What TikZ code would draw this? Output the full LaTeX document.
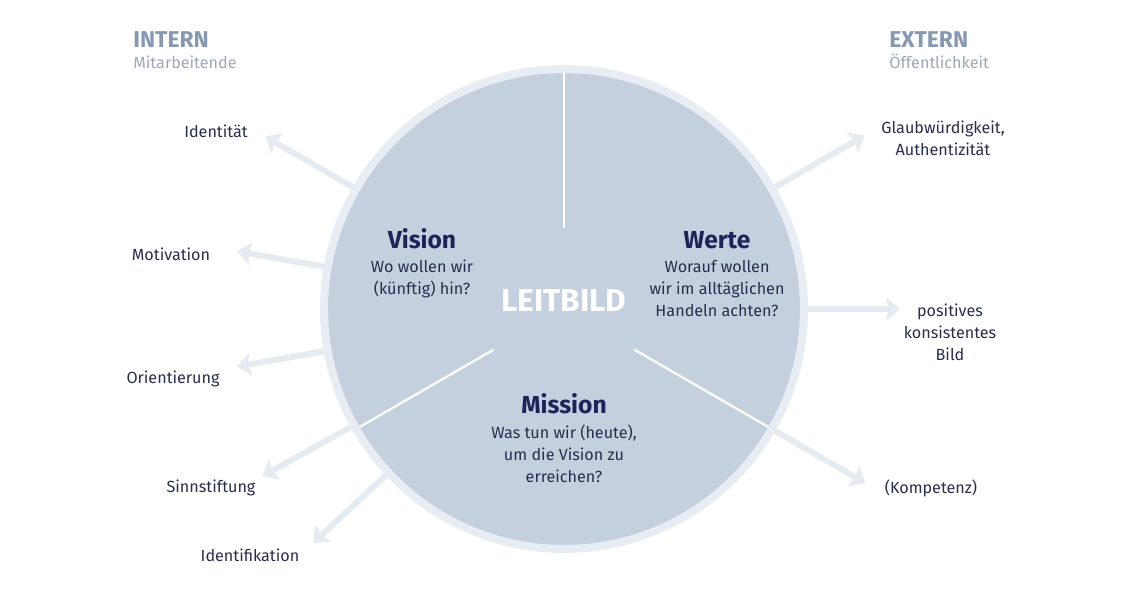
\documentclass[tikz,border=0pt]{standalone}
\usepackage{fontspec}
\setmainfont{Fira Sans}
\usepackage{xcolor}
\usepackage{tikz}
\usetikzlibrary{calc, arrows.meta, positioning}

\definecolor{kreisblau}{HTML}{C5D0DF}
\definecolor{ringgrau}{HTML}{E8EDF4}
\definecolor{pfeilgrau}{HTML}{E6EBF2}
\definecolor{titelblau}{HTML}{1D2459}
\definecolor{schrift}{HTML}{2A2E4E}
\definecolor{kopfblau}{HTML}{8798B3}
\definecolor{kopfhell}{HTML}{9CA9BD}

\begin{document}
\begin{tikzpicture}[x=0.02cm, y=0.02cm,
    >={Stealth[length=0.28cm, width=0.46cm, inset=0.05cm]},
    pfeil/.style={->, line width=0.12cm, pfeilgrau},
    speiche/.style={white, line width=0.045cm},
    titel/.style={font=\fontsize{14}{17}\selectfont\bfseries, text=titelblau, inner sep=0pt, anchor=base},
    frage/.style={font=\fontsize{9.2}{12.5}\selectfont, text=schrift, align=center, inner sep=0pt},
    wirkung/.style={font=\fontsize{9.2}{12.5}\selectfont, text=schrift, align=center, inner sep=0pt},
    kopf/.style={font=\fontsize{13}{15}\selectfont\bfseries, text=kopfblau, inner sep=0pt, anchor=base west},
    unterkopf/.style={font=\fontsize{9.2}{11}\selectfont, text=kopfhell, inner sep=0pt, anchor=base west}]

    % =================================================================
    % 1. RAHMEN UND MITTELPUNKT
    % =================================================================
    \fill[white] (0,0) rectangle (1125,600);
    \useasboundingbox (0,0) rectangle (1125,600);
    \coordinate (M) at (564,291);

    % =================================================================
    % 2. KREIS MIT HELLEM RING UND DREI SPEICHEN
    % =================================================================
    \node[circle, fill=kreisblau, draw=ringgrau, line width=0.16cm,
          minimum size=9.6cm, inner sep=0pt] (Kreis) at (M) {};

    % Weisse Trennlinien zwischen Vision, Werte und Mission
    \foreach \w in {90, 210, 330} {
        \draw[speiche] ($(M)+(\w:81)$) -- ($(M)+(\w:236)$);
    }

    % =================================================================
    % 3. PFEILE NACH AUSSEN (INTERN LINKS, EXTERN RECHTS)
    % =================================================================
    \foreach \ziel/\winkel/\radius in {Identitaet/150/345, Motivation/170/332,
        Orientierung/190/332, Sinnstiftung/209/345, Identifikation/223/343,
        Glaubwuerdigkeit/30/347, Bild/0/336, Kompetenz/330/348} {
        \coordinate (\ziel-Spitze) at ($(M)+(\winkel:\radius)$);
        \draw[pfeil] (Kreis.\winkel) -- (\ziel-Spitze);
    }

    % =================================================================
    % 4. TEXTE IM KREIS
    % =================================================================
    \node[font=\fontsize{18}{20}\selectfont\bfseries, text=white, anchor=base,
          inner sep=0pt] (Leitbild) at (564,289) {LEITBILD};

    \node[titel] (Vision) at (422,352) {Vision};
    \node[frage, below=0.22cm of Vision] (VisionText) {Wo wollen wir\\(künftig) hin?};

    \node[titel] (Werte) at (717,352) {Werte};
    \node[frage, below=0.22cm of Werte] (WerteText) {Worauf wollen\\wir im alltäglichen\\Handeln achten?};

    \node[titel] (Mission) at (564,187) {Mission};
    \node[frage, below=0.22cm of Mission] (MissionText) {Was tun wir (heute),\\um die Vision zu\\erreichen?};

    % =================================================================
    % 5. BESCHRIFTUNGEN AUSSEN
    % =================================================================
    \node[kopf] (Intern) at (133,553) {INTERN};
    \node[unterkopf] (Mitarbeitende) at (133,532) {Mitarbeitende};
    \node[kopf] (Extern) at (889,553) {EXTERN};
    \node[unterkopf] (Oeffentlichkeit) at (889,532) {Öffentlichkeit};

    % Wirkung nach innen
    \node[wirkung, anchor=base] (Identitaet) at (216,463) {Identität};
    \node[wirkung, anchor=base] (Motivation) at (171,340) {Motivation};
    \node[wirkung, anchor=base] (Orientierung) at (173,217) {Orientierung};
    \node[wirkung, anchor=base] (Sinnstiftung) at (211,108) {Sinnstiftung};
    \node[wirkung, anchor=base] (Identifikation) at (250,39) {Identifikation};

    % Wirkung nach aussen
    \node[wirkung] (Glaubwuerdigkeit) at (943,462) {Glaubwürdigkeit,\\Authentizität};
    \node[wirkung] (Bild) at (950,268) {positives\\konsistentes\\Bild};
    \node[wirkung, anchor=base] (Kompetenz) at (931,107) {(Kompetenz)};

\end{tikzpicture}
\end{document}
